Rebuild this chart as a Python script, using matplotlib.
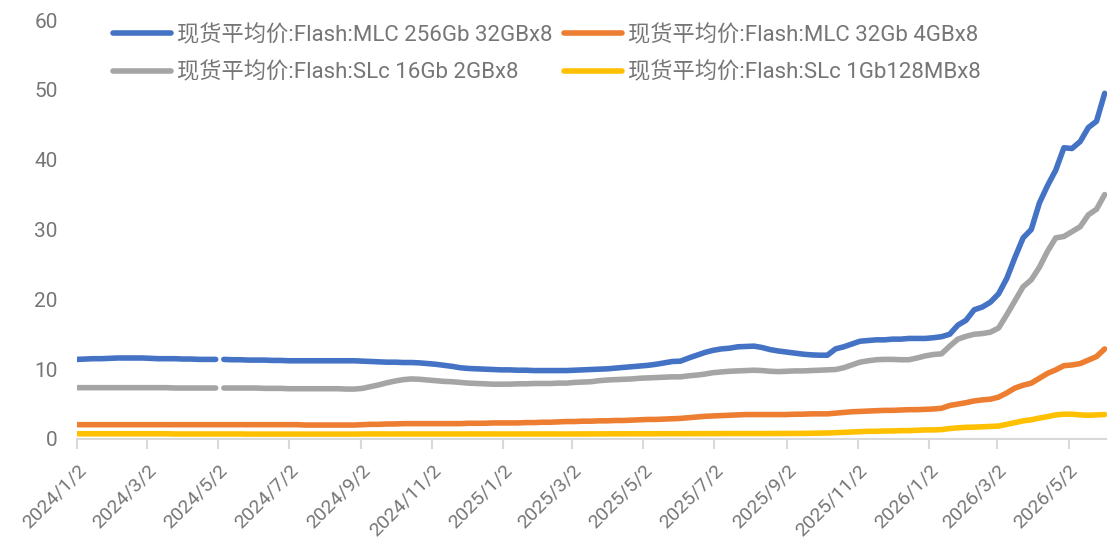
import matplotlib
matplotlib.use('Agg')
import matplotlib.pyplot as plt
import numpy as np
import pandas as pd

plt.rcParams['font.family'] = ['Roboto', 'Noto Sans CJK SC', 'DejaVu Sans']

nan = np.nan

# weekly dates 2024/1/2 .. 2026/6/2
dates = pd.date_range('2024-01-02', '2026-06-02', freq='7D')
# the two upper series have a missing value on 2024/5/2 (holiday)
dates_gap = dates.insert(18, pd.Timestamp('2024-05-03'))

names = ['现货平均价:Flash:MLC 256Gb 32GBx8',
         '现货平均价:Flash:MLC 32Gb 4GBx8',
         '现货平均价:Flash:SLc 16Gb 2GBx8',
         '现货平均价:Flash:SLc 1Gb128MBx8']

mlc_256 = [
    11.4, 11.45, 11.5, 11.5, 11.55, 11.6, 11.6, 11.6, 11.6, 11.55,
    11.5, 11.5, 11.5, 11.45, 11.45, 11.4, 11.4, 11.4, nan,
    11.4, 11.35, 11.35, 11.3, 11.3, 11.3, 11.25, 11.25, 11.2, 11.2,
    11.2, 11.2, 11.2, 11.2, 11.2, 11.2, 11.2,
    11.15, 11.1, 11.05, 11.0, 11.0, 10.95, 10.95, 10.9, 10.8, 10.7,
    10.55, 10.4, 10.2, 10.1, 10.05, 10.0, 9.95, 9.9, 9.9, 9.85,
    9.85, 9.8, 9.8, 9.8, 9.8,
    9.8, 9.85, 9.9, 9.95, 10.0, 10.05, 10.15, 10.25, 10.35, 10.45,
    10.55, 10.7, 10.9, 11.1, 11.15, 11.6, 12.0, 12.4, 12.7, 12.9,
    13.0, 13.2, 13.25, 13.3, 13.1, 12.8, 12.6, 12.45, 12.3, 12.15,
    12.05, 12.0, 12.0,
    12.9, 13.2, 13.6, 14.0, 14.1, 14.2, 14.2, 14.3, 14.3, 14.4,
    14.4, 14.4, 14.5, 14.65, 15.0, 16.3, 17.0, 18.5, 18.9, 19.6,
    20.8, 23.0, 26.0, 28.8, 30.0, 33.8, 36.3, 38.5, 41.7, 41.6,
    42.6, 44.6, 45.5, 49.5,
]

mlc_32 = [
    2.05, 2.05, 2.05, 2.05, 2.05, 2.05, 2.05, 2.05, 2.05, 2.05,
    2.05, 2.05, 2.05, 2.05, 2.05, 2.05, 2.05, 2.05, 2.05, 2.05,
    2.05, 2.05, 2.05, 2.05, 2.05, 2.05, 2.05, 2.05, 2.0, 2.0,
    2.0, 2.0, 2.0, 2.0, 2.0, 2.05,
    2.1, 2.1, 2.15, 2.15, 2.2, 2.2, 2.2, 2.2, 2.2, 2.2,
    2.2, 2.2, 2.25, 2.25, 2.25, 2.3, 2.3, 2.3, 2.3, 2.35,
    2.35, 2.4, 2.4, 2.45,
    2.5, 2.5, 2.55, 2.55, 2.6, 2.6, 2.65, 2.65, 2.7, 2.75,
    2.8, 2.8, 2.85, 2.9, 2.95, 3.05, 3.15, 3.25, 3.3, 3.35,
    3.4, 3.45, 3.5, 3.5, 3.5, 3.5, 3.5, 3.5, 3.55, 3.55,
    3.6, 3.6, 3.6,
    3.7, 3.8, 3.9, 3.95, 4.0, 4.05, 4.1, 4.1, 4.15, 4.2,
    4.2, 4.25, 4.3, 4.4, 4.8, 5.0, 5.2, 5.45, 5.6, 5.7,
    6.0, 6.6, 7.3, 7.7, 8.0, 8.7, 9.4, 9.9, 10.5, 10.6,
    10.8, 11.3, 11.8, 12.9,
]

slc_16 = [
    7.35, 7.35, 7.35, 7.35, 7.35, 7.35, 7.35, 7.35, 7.35, 7.35,
    7.35, 7.35, 7.3, 7.3, 7.3, 7.3, 7.3, 7.3, nan,
    7.3, 7.3, 7.3, 7.3, 7.3, 7.25, 7.25, 7.25, 7.2, 7.2,
    7.2, 7.2, 7.2, 7.2, 7.2, 7.15, 7.15,
    7.25, 7.5, 7.75, 8.05, 8.3, 8.5, 8.6, 8.55, 8.45, 8.35,
    8.25, 8.2, 8.1, 8.0, 7.95, 7.9, 7.85, 7.85, 7.85, 7.9,
    7.9, 7.95, 7.95, 7.95, 8.0,
    8.0, 8.1, 8.15, 8.2, 8.35, 8.45, 8.5, 8.55, 8.6, 8.7,
    8.75, 8.8, 8.85, 8.9, 8.9, 9.05, 9.15, 9.3, 9.5, 9.6,
    9.7, 9.75, 9.8, 9.85, 9.8, 9.7, 9.65, 9.7, 9.75, 9.75,
    9.8, 9.85, 9.9,
    9.95, 10.2, 10.6, 11.0, 11.2, 11.35, 11.4, 11.4, 11.35, 11.35,
    11.6, 11.9, 12.1, 12.2, 13.3, 14.3, 14.7, 15.0, 15.1, 15.3,
    15.9, 17.8, 19.8, 21.8, 22.8, 24.6, 26.9, 28.8, 29.0, 29.7,
    30.4, 32.1, 32.9, 35.0,
]

slc_1 = [
    0.75, 0.75, 0.75, 0.75, 0.75, 0.75, 0.75, 0.75, 0.75, 0.75,
    0.75, 0.75, 0.72, 0.72, 0.72, 0.72, 0.72, 0.72, 0.72, 0.72,
    0.72, 0.7, 0.7, 0.7, 0.7, 0.7, 0.7, 0.7, 0.7, 0.7,
    0.7, 0.7, 0.7, 0.7, 0.7, 0.72, 0.72, 0.72, 0.72, 0.72,
    0.72, 0.72, 0.72, 0.72, 0.72, 0.72, 0.72, 0.72, 0.72, 0.72,
    0.72, 0.72, 0.72, 0.72, 0.72, 0.72, 0.72, 0.72, 0.72, 0.72,
    0.72, 0.72, 0.73, 0.73, 0.73, 0.74, 0.74, 0.74, 0.75, 0.75,
    0.75, 0.75, 0.76, 0.76, 0.76, 0.76, 0.77, 0.77, 0.77, 0.78,
    0.78, 0.78, 0.78, 0.78, 0.78, 0.78, 0.79, 0.79, 0.8, 0.8,
    0.82, 0.84, 0.86,
    0.9, 0.95, 1.0, 1.05, 1.1, 1.1, 1.15, 1.15, 1.2, 1.2,
    1.25, 1.3, 1.3, 1.35, 1.5, 1.6, 1.67, 1.7, 1.75, 1.8,
    1.85, 2.1, 2.35, 2.6, 2.75, 3.0, 3.2, 3.45, 3.55, 3.55,
    3.45, 3.4, 3.45, 3.5,
]

colors = ['#4472C4', '#ED7D31', '#A5A5A5', '#FFC000']
series = [mlc_256, mlc_32, slc_16, slc_1]
xs = [dates_gap, dates, dates_gap, dates]

tick_dates = pd.date_range('2024-01-02', periods=15, freq=pd.DateOffset(months=2))
tick_labels = [f'{d.year}/{d.month}/{d.day}' for d in tick_dates]

txt_color = '#767676'

fig = plt.figure(figsize=(11.07, 5.44), dpi=100)
ax = fig.add_axes([77 / 1107, 1 - 439 / 544, 1 - 77 / 1107, (439 - 20) / 544])

lines = []
for x, vals, c, nm in zip(xs, series, colors, names):
    ln, = ax.plot(x, vals, color=c, lw=4, label=nm, solid_capstyle='round')
    lines.append(ln)

ax.set_ylim(0, 60)
ax.set_yticks(range(0, 61, 10))
ax.set_xlim(dates[0], dates[-1] + pd.Timedelta(days=2))
ax.set_xticks(tick_dates)
ax.set_xticklabels(tick_labels, rotation=45, ha='right', va='top', rotation_mode='anchor')

for s in ['top', 'right', 'left']:
    ax.spines[s].set_visible(False)
ax.spines['bottom'].set_color('#D9D9D9')
ax.spines['bottom'].set_linewidth(1.5)
ax.tick_params(axis='y', length=0, pad=14, labelsize=15, labelcolor=txt_color)
ax.tick_params(axis='x', length=7, width=1.5, color='#D9D9D9', pad=9,
               labelsize=14, labelcolor=txt_color)

order = [0, 2, 1, 3]
ax.legend([lines[i] for i in order], [names[i] for i in order], ncol=2,
          loc='upper left', bbox_to_anchor=(113 / 1107, 0.955),
          bbox_transform=fig.transFigure, frameon=False, fontsize=16,
          labelcolor=txt_color, handlelength=2.6, handletextpad=0.3,
          columnspacing=0.5, labelspacing=0.72, borderpad=0, borderaxespad=0)

fig.savefig('out.png', dpi=100)
